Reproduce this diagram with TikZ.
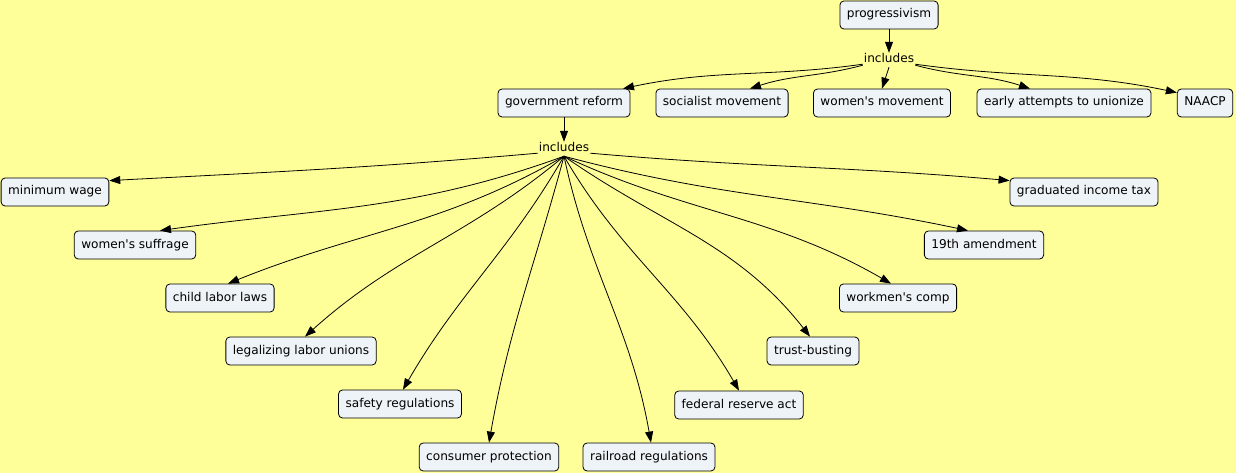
\documentclass[tikz,border=0pt]{standalone}
\usepackage{fontspec}
\setmainfont{DejaVu Sans}[Ligatures=TeXOff]
\usetikzlibrary{arrows.meta}
\definecolor{mapyellow}{RGB}{255,255,153}
\definecolor{conceptfill}{RGB}{238,243,247}

\begin{document}
\begin{tikzpicture}[x=1pt,y=1pt]
\tikzstyle{concept} = [draw=black, line width=0.8pt, fill=conceptfill, rounded corners=4pt, inner xsep=7pt, inner ysep=8pt, text height=9pt, text depth=3pt, font=\fontsize{12.1}{14}\selectfont]
\tikzstyle{linkphrase} = [inner sep=1pt, text height=9pt, text depth=3pt, font=\fontsize{12.1}{14}\selectfont]
\tikzstyle{conn} = [-{Triangle[length=11pt,width=8pt]}, line width=0.8pt]

\fill[mapyellow] (0,0) rectangle (1236,-473);
\useasboundingbox (0,0) rectangle (1236,-473);

\node[concept] (prog) at (889,-15) {progressivism};
\node[linkphrase] (inc1) at (889,-60) {includes};

\node[concept] (gov) at (564,-103) {government reform};
\node[concept] (soc) at (722,-103) {socialist movement};
\node[concept] (wom) at (882,-103) {women's movement};
\node[concept] (uni) at (1064,-103) {early attempts to unionize};
\node[concept] (naacp) at (1205,-103) {NAACP};

\node[linkphrase] (inc2) at (564,-149) {includes};

\node[concept] (mw) at (55,-192) {minimum wage};
\node[concept] (ws) at (135,-245) {women's suffrage};
\node[concept] (cl) at (220,-298) {child labor laws};
\node[concept] (lu) at (301,-351) {legalizing labor unions};
\node[concept] (sr) at (400,-404) {safety regulations};
\node[concept] (cp) at (489,-457) {consumer protection};
\node[concept] (rr) at (649,-457) {railroad regulations};
\node[concept] (fr) at (739,-405) {federal reserve act};
\node[concept] (tb) at (813,-351) {trust-busting};
\node[concept] (wc) at (898,-298) {workmen's comp};
\node[concept] (am) at (984,-245) {19th amendment};
\node[concept] (gi) at (1084,-192) {graduated income tax};

\draw[conn] (prog) -- (inc1);
\draw[conn] ([yshift=3pt]inc1.south west) to[out=188,in=12] ([xshift=59pt]gov.north);
\draw[conn] ([yshift=2pt]inc1.south west) to[out=195,in=18] ([xshift=28pt]soc.north);
\draw[conn] (inc1.south) -- (wom.north);
\draw[conn] ([yshift=2pt]inc1.south east) to[out=-15,in=162] ([xshift=-34pt]uni.north);
\draw[conn] ([yshift=3pt]inc1.south east) to[out=-8,in=168] ([yshift=-4pt]naacp.north west);

\draw[conn] (gov) -- (inc2);
\draw[conn] ([yshift=3pt]inc2.south west) to[out=185,in=3] ([yshift=-3pt]mw.north east);
\draw[conn] (inc2.south) to[out=200,in=8] ([xshift=25pt]ws.north);
\draw[conn] (inc2.south) to[out=210,in=22] ([xshift=8pt]cl.north);
\draw[conn] (inc2.south) to[out=220,in=42] ([xshift=4pt]lu.north);
\draw[conn] (inc2.south) to[out=240,in=60] ([xshift=3pt]sr.north);
\draw[conn] (inc2.south) to[out=255,in=80] (cp.north);
\draw[conn] (inc2.south) to[out=282,in=100] ([xshift=2pt]rr.north);
\draw[conn] (inc2.south) to[out=300,in=120] (fr.north);
\draw[conn] (inc2.south) to[out=325,in=128] ([xshift=-3pt]tb.north);
\draw[conn] (inc2.south) to[out=335,in=150] ([xshift=-7pt]wc.north);
\draw[conn] (inc2.south) to[out=345,in=168] ([xshift=-16pt]am.north);
\draw[conn] ([yshift=3pt]inc2.south east) to[out=-5,in=175] ([yshift=-3pt]gi.north west);
\end{tikzpicture}
\end{document}
